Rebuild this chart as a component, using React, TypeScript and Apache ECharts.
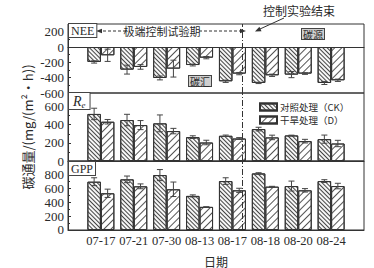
import React, { useEffect, useRef } from "react";
import * as echarts from "echarts";

const categories = ["07-17", "07-21", "07-30", "08-13", "08-17", "08-18", "08-20", "08-24"];
const neeCK = [-195, -295, -404, -235, -447, -469, -360, -469];
const neeCKErr = [15, 58, 25, 12, 15, 8, 40, 20];
const neeD = [-108, -260, -282, -139, -347, -369, -347, -434];
const neeDErr = [80, 30, 110, 15, 15, 15, 10, 15];
const reCK = [519, 452, 415, 263, 278, 352, 282, 241];
const reCKErr = [63, 63, 93, 15, 8, 20, 3, 45];
const reD = [433, 396, 330, 204, 248, 260, 219, 193];
const reDErr = [25, 50, 30, 25, 10, 25, 20, 35];
const gppCK = [700, 734, 796, 494, 709, 820, 637, 709];
const gppCKErr = [57, 48, 80, 15, 48, 10, 72, 20];
const gppD = [532, 633, 590, 335, 575, 628, 575, 637];
const gppDErr = [60, 35, 105, 0, 30, 5, 25, 40];
const endPosition = 5.5; // between 08-17 and 08-18

const CK_NAME = "对照处理（CK）";
const D_NAME = "干旱处理（D）";
const SERIF = "'Liberation Serif', 'Noto Sans CJK SC', serif";
const CJK = "'Noto Sans CJK SC', sans-serif";
const INK = "#2a2a2a";

const ckStyle = {
  color: "#f6f6f6",
  borderColor: "#333",
  borderWidth: 1,
  decal: {
    symbol: "rect",
    symbolSize: 1,
    color: "#444",
    dashArrayX: [1, 0],
    dashArrayY: [1, 1.8],
    rotation: Math.PI / 4,
  },
};
const dStyle = {
  color: "#ffffff",
  borderColor: "#333",
  borderWidth: 1,
  decal: {
    symbol: "rect",
    symbolSize: 1,
    color: "#555",
    dashArrayX: [1, 0],
    dashArrayY: [1, 3.5],
    rotation: -Math.PI / 4,
  },
};

function barSeries(name: string, idx: number, values: number[], style: any, markLineData?: any[]) {
  const s: any = {
    type: "bar",
    name,
    xAxisIndex: idx,
    yAxisIndex: idx,
    data: values.map((v, i) => [i + 1, v]),
    barWidth: 13.5,
    barGap: "0%",
    itemStyle: style,
    z: 2,
  };
  if (markLineData) {
    s.markLine = {
      silent: true,
      symbol: "none",
      label: { show: false },
      lineStyle: { type: [6, 2, 1, 2], color: "#333", width: 1 },
      data: markLineData,
      z: 5,
    };
  }
  return s;
}

function errSeries(idx: number, values: number[], errs: number[], offset: number) {
  return {
    type: "custom",
    xAxisIndex: idx,
    yAxisIndex: idx,
    silent: true,
    z: 10,
    data: values.map((v, i) => [i + 1, v, errs[i]]),
    renderItem: (params: any, api: any) => {
      const x = api.value(0);
      const v = api.value(1);
      const e = api.value(2);
      const hi = api.coord([x, v + e]);
      const lo = api.coord([x, v - e]);
      const cx = hi[0] + offset;
      const cap = 3;
      const st = { stroke: "#444", lineWidth: 1 };
      return {
        type: "group",
        children: [
          { type: "line", shape: { x1: cx, y1: hi[1], x2: cx, y2: lo[1] }, style: st },
          { type: "line", shape: { x1: cx - cap, y1: hi[1], x2: cx + cap, y2: hi[1] }, style: st },
          { type: "line", shape: { x1: cx - cap, y1: lo[1], x2: cx + cap, y2: lo[1] }, style: st },
        ],
      };
    },
  };
}

function boxText(x: number, y: number, text: string, bg: string, font: string, extra: any = {}) {
  return {
    type: "text",
    x,
    y,
    z: 20,
    style: {
      text,
      font,
      fill: INK,
      backgroundColor: bg,
      borderColor: "#444",
      borderWidth: 1,
      padding: [1, 2, 0, 2],
      ...extra,
    },
  };
}

export default function App() {
  const ref = useRef<HTMLDivElement>(null);
  useEffect(() => {
    if (!ref.current) return;
    const chart = echarts.init(ref.current, undefined, { renderer: "svg" });
    const grids = [
      { left: 68, right: 10, top: 24, height: 69 },
      { left: 68, right: 10, top: 93, height: 68 },
      { left: 68, right: 10, top: 161, height: 69 },
    ].map((g) => ({ ...g, show: true, borderColor: "#333", borderWidth: 1, backgroundColor: "transparent" }));

    const xAxes = [0, 1, 2].map((i) => ({
      gridIndex: i,
      type: "value",
      min: 0,
      max: 9,
      interval: 1,
      axisLine: { show: true, lineStyle: { color: "#333" } },
      axisTick: { show: false },
      splitLine: { show: false },
      axisLabel: {
        show: i === 2,
        formatter: (v: number) => categories[v - 1] ?? "",
        color: INK,
        fontFamily: SERIF,
        fontSize: 12.5,
        margin: 5,
      },
      name: i === 2 ? "日期" : "",
      nameLocation: "middle",
      nameGap: 25,
      nameTextStyle: { fontFamily: CJK, fontSize: 12, color: INK },
    }));

    const yBase = {
      type: "value",
      interval: 200,
      axisLine: { show: true, lineStyle: { color: "#333" } },
      axisTick: { show: true, inside: true, length: 3, lineStyle: { color: "#333" } },
      minorTick: { show: true, splitNumber: 2, length: 2, lineStyle: { color: "#333" } },
      splitLine: { show: false },
      axisLabel: { showMaxLabel: false, color: INK, fontFamily: SERIF, fontSize: 13, margin: 4 },
    };
    const yAxes = [
      { ...yBase, gridIndex: 0, min: -600, max: 300 },
      {
        ...yBase,
        gridIndex: 1,
        min: 0,
        max: 750,
        name: "碳通量/(mg/(m²·h))",
        nameLocation: "middle",
        nameGap: 34,
        nameTextStyle: { fontFamily: CJK, fontSize: 13, color: INK },
      },
      { ...yBase, gridIndex: 2, min: 0, max: 1000 },
    ];

    const series: any[] = [
      barSeries(CK_NAME, 0, neeCK, ckStyle, [{ xAxis: endPosition }, { yAxis: 0 }]),
      barSeries(D_NAME, 0, neeD, dStyle),
      barSeries(CK_NAME, 1, reCK, ckStyle, [{ xAxis: endPosition }]),
      barSeries(D_NAME, 1, reD, dStyle),
      barSeries(CK_NAME, 2, gppCK, ckStyle, [{ xAxis: endPosition }]),
      barSeries(D_NAME, 2, gppD, dStyle),
      errSeries(0, neeCK, neeCKErr, -6.75),
      errSeries(0, neeD, neeDErr, 6.75),
      errSeries(1, reCK, reCKErr, -6.75),
      errSeries(1, reD, reDErr, 6.75),
      errSeries(2, gppCK, gppCKErr, -6.75),
      errSeries(2, gppD, gppDErr, 6.75),
    ];

    const arrowStroke = { stroke: "#333", lineWidth: 1 };
    const graphic: any[] = [
      {
        type: "text",
        x: 299,
        y: 10,
        style: { text: "控制实验结束", font: `12px ${CJK}`, fill: INK, align: "center", verticalAlign: "middle" },
      },
      { type: "line", shape: { x1: 284, y1: 18, x2: 260, y2: 29 }, style: arrowStroke },
      { type: "polygon", shape: { points: [[255, 31.5], [261.5, 31.3], [259.4, 26.7]] }, style: { fill: "#333" } },
      {
        type: "text",
        x: 162,
        y: 31,
        z: 20,
        style: { text: "极端控制试验期", font: `11px ${CJK}`, fill: INK, align: "center", verticalAlign: "middle" },
      },
      { type: "line", shape: { x1: 126, y1: 31, x2: 101, y2: 31 }, style: { ...arrowStroke, lineDash: [3, 2] } },
      { type: "polygon", shape: { points: [[96, 31], [102, 28.8], [102, 33.2]] }, style: { fill: "#333" } },
      { type: "line", shape: { x1: 199, y1: 31, x2: 241, y2: 31 }, style: { ...arrowStroke, lineDash: [3, 2] } },
      { type: "polygon", shape: { points: [[246, 31], [240, 28.8], [240, 33.2]] }, style: { fill: "#333" } },
      boxText(69, 24, "NEE", "#fff", `12px ${SERIF}`),
      {
        type: "text",
        x: 69,
        y: 93,
        z: 20,
        style: {
          text: "{r|R}{e|e}",
          fill: INK,
          backgroundColor: "#fff",
          borderColor: "#444",
          borderWidth: 1,
          padding: [1, 4, 0, 4],
          rich: {
            r: { fontFamily: SERIF, fontStyle: "italic", fontSize: 14, fill: INK, lineHeight: 15 },
            e: { fontFamily: SERIF, fontStyle: "italic", fontSize: 9, fill: INK, lineHeight: 15, padding: [7, 0, 0, 0] },
          },
        },
      },
      boxText(69, 162, "GPP", "#fff", `12px ${SERIF}`),
      boxText(189, 76, "碳汇", "#cfcfcf", `10px ${CJK}`, { padding: [0, 1, 0, 1] }),
      boxText(302, 29, "碳源", "#cfcfcf", `10px ${CJK}`, { padding: [0, 1, 0, 1] }),
    ];

    chart.setOption({
      animation: false,
      backgroundColor: "#fff",
      textStyle: { fontFamily: SERIF },
      grid: grids,
      xAxis: xAxes,
      yAxis: yAxes,
      legend: {
        data: [CK_NAME, D_NAME],
        orient: "vertical",
        left: 254,
        top: 97,
        icon: "rect",
        itemWidth: 17,
        itemHeight: 7,
        itemGap: 3,
        textStyle: { fontFamily: CJK, fontSize: 9.5, lineHeight: 10, color: INK, padding: [0, 0, 0, -2] },
        selectedMode: false,
      },
      series,
      graphic,
    });
    return () => chart.dispose();
  }, []);
  return (
    <div
      ref={ref}
      style={{ position: "fixed", left: 0, top: 0, width: 374, height: 268, background: "#fff" }}
    />
  );
}
